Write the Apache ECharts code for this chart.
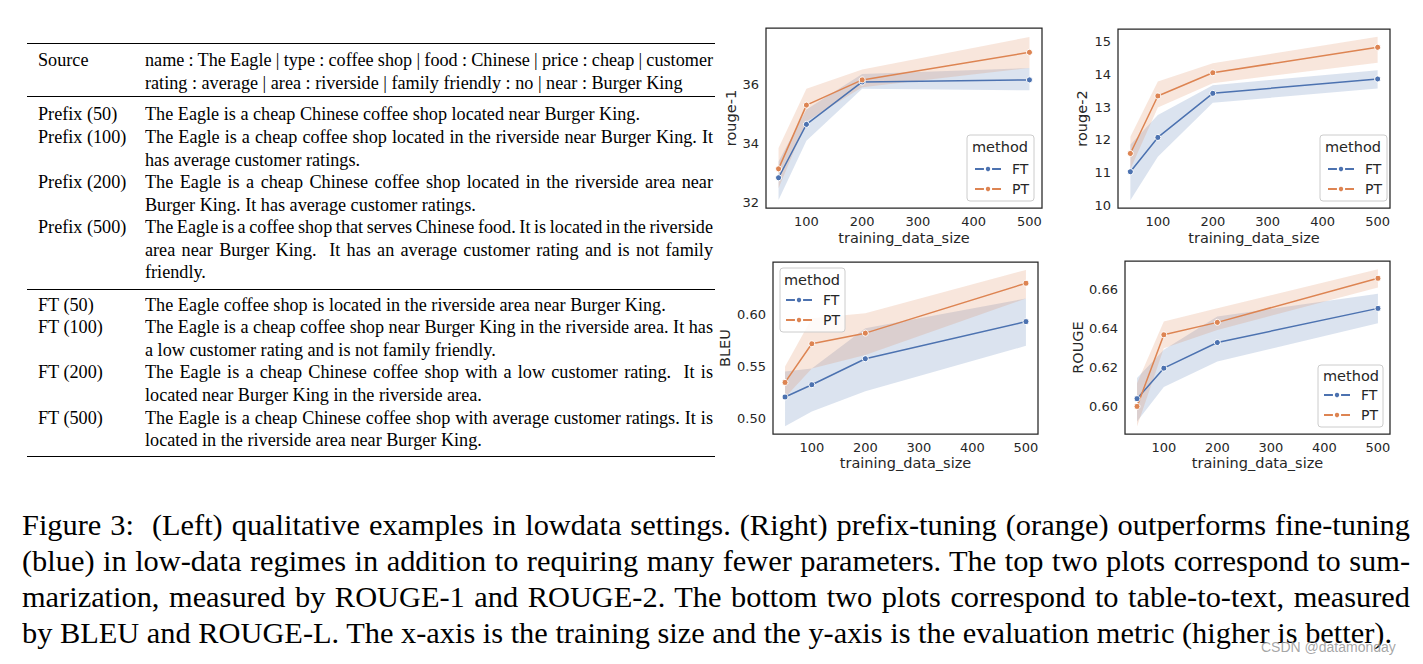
<!DOCTYPE html>
<html>
<head>
<meta charset="utf-8">
<script src="https://cdn.jsdelivr.net/npm/echarts@6/dist/echarts.min.js"></script>
<style>
html,body{margin:0;padding:0;background:#fff;width:1423px;height:664px;overflow:hidden;}
#chart{position:absolute;left:0;top:0;width:1423px;height:664px;}
#text{position:absolute;left:0;top:0;width:1423px;height:664px;pointer-events:none;}
.ln{position:absolute;white-space:pre;font-family:"Liberation Serif","Times New Roman",serif;color:#000;}
.ln span{display:inline-block;transform-origin:0 50%;white-space:pre;}
.rule{position:absolute;left:27px;width:688px;background:#000;}
.wm{position:absolute;left:1261px;top:639px;font-family:"Liberation Sans",Arial,sans-serif;font-size:14px;color:rgba(150,150,150,0.85);white-space:pre;}
</style>
</head>
<body>
<div id="chart"></div>
<div id="text"></div>
<script>
// ---------------- data ----------------
const trainingSizes = [50, 100, 200, 500];
const xTickLabels = [100, 200, 300, 400, 500];

// ROUGE-1 (summarization)
const rouge1FT   = [32.85, 34.65, 36.08, 36.15];
const rouge1PT   = [33.15, 35.30, 36.15, 37.08];
const rouge1FTlo = [32.10, 34.10, 35.85, 35.80];
const rouge1FThi = [33.40, 35.15, 36.35, 36.55];
const rouge1PTlo = [32.50, 34.75, 35.90, 36.55];
const rouge1PThi = [33.85, 35.85, 36.50, 37.60];
const rouge1Ticks = [32, 34, 36];

// ROUGE-2 (summarization)
const rouge2FT   = [11.02, 12.07, 13.42, 13.86];
const rouge2PT   = [11.58, 13.34, 14.05, 14.83];
const rouge2FTlo = [10.15, 11.48, 13.13, 13.57];
const rouge2FThi = [11.85, 12.76, 13.67, 14.13];
const rouge2PTlo = [11.10, 12.99, 13.73, 14.36];
const rouge2PThi = [12.09, 13.78, 14.34, 15.15];
const rouge2Ticks = [10, 11, 12, 13, 14, 15];

// BLEU (table-to-text)
const bleuFT   = [0.5204, 0.5323, 0.5575, 0.5935];
const bleuPT   = [0.5345, 0.5720, 0.5823, 0.6307];
const bleuFTlo = [0.4920, 0.5064, 0.5260, 0.5700];
const bleuFThi = [0.5450, 0.5480, 0.5870, 0.6160];
const bleuPTlo = [0.5200, 0.5480, 0.5610, 0.6160];
const bleuPThi = [0.5500, 0.5968, 0.6017, 0.6436];
const bleuTicks = [0.50, 0.55, 0.60];

// ROUGE-L (table-to-text)
const rougeLFT   = [0.6040, 0.6197, 0.6329, 0.6505];
const rougeLPT   = [0.6000, 0.6369, 0.6433, 0.6660];
const rougeLFTlo = [0.5923, 0.6100, 0.6231, 0.6429];
const rougeLFThi = [0.6146, 0.6292, 0.6463, 0.6580];
const rougeLPTlo = [0.5897, 0.6300, 0.6394, 0.6613];
const rougeLPThi = [0.6120, 0.6437, 0.6506, 0.6706];
const rougeLTicks = [0.60, 0.62, 0.64, 0.66];

const yNames = ['rouge-1', 'rouge-2', 'BLEU', 'ROUGE'];
const xName = 'training_data_size';
const methodNames = ['FT', 'PT'];
const legendTitle = 'method';

// table text
const tableLabels = ['Source', 'Prefix (50)', 'Prefix (100)', 'Prefix (200)', 'Prefix (500)',
                     'FT (50)', 'FT (100)', 'FT (200)', 'FT (500)'];
const tableTexts = [
  ['name : The Eagle | type : coffee shop | food : Chinese | price : cheap | customer',
   'rating : average | area : riverside | family friendly : no | near : Burger King'],
  ['The Eagle is a cheap Chinese coffee shop located near Burger King.'],
  ['The Eagle is a cheap coffee shop located in the riverside near Burger King. It',
   'has average customer ratings.'],
  ['The Eagle is a cheap Chinese coffee shop located in the riverside area near',
   'Burger King. It has average customer ratings.'],
  ['The Eagle is a coffee shop that serves Chinese food. It is located in the riverside',
   'area near Burger King.  It has an average customer rating and is not family',
   'friendly.'],
  ['The Eagle coffee shop is located in the riverside area near Burger King.'],
  ['The Eagle is a cheap coffee shop near Burger King in the riverside area. It has',
   'a low customer rating and is not family friendly.'],
  ['The Eagle is a cheap Chinese coffee shop with a low customer rating.  It is',
   'located near Burger King in the riverside area.'],
  ['The Eagle is a cheap Chinese coffee shop with average customer ratings. It is',
   'located in the riverside area near Burger King.']
];
const captionLines = [
  'Figure 3:  (Left) qualitative examples in lowdata settings. (Right) prefix-tuning (orange) outperforms fine-tuning',
  '(blue) in low-data regimes in addition to requiring many fewer parameters. The top two plots correspond to sum-',
  'marization, measured by ROUGE-1 and ROUGE-2. The bottom two plots correspond to table-to-text, measured',
  'by BLEU and ROUGE-L. The x-axis is the training size and the y-axis is the evaluation metric (higher is better).'
];
const watermark = 'CSDN @datamonday';

// ---------------- layout (positions / sizes / styles) ----------------
const tableLineY = [[60, 83], [114], [137, 160], [182, 205], [227, 250, 272], [305], [327, 350], [372, 395], [418, 440]];
const ruleY = [[43.5, 1.5], [96.5, 1], [289, 1], [456.5, 1.5]];
const captionY = [525, 561, 597, 633];

const COLORS = ['#4C72B0', '#DD8452'];
const BANDS = ['rgba(76,114,176,0.2)', 'rgba(221,132,82,0.2)'];
const INK = '#262626';
const FONT = 'DejaVu Sans';

const charts = [
  {ft: rouge1FT, pt: rouge1PT, ftLo: rouge1FTlo, ftHi: rouge1FThi, ptLo: rouge1PTlo, ptHi: rouge1PThi, ticks: rouge1Ticks, ymin: 31.83, ymax: 37.90, dec: 0},
  {ft: rouge2FT, pt: rouge2PT, ftLo: rouge2FTlo, ftHi: rouge2FThi, ptLo: rouge2PTlo, ptHi: rouge2PThi, ticks: rouge2Ticks, ymin: 9.91, ymax: 15.39, dec: 0},
  {ft: bleuFT, pt: bleuPT, ftLo: bleuFTlo, ftHi: bleuFThi, ptLo: bleuPTlo, ptHi: bleuPThi, ticks: bleuTicks, ymin: 0.4845, ymax: 0.6513, dec: 2},
  {ft: rougeLFT, pt: rougeLPT, ftLo: rougeLFTlo, ftHi: rougeLFThi, ptLo: rougeLPTlo, ptHi: rougeLPThi, ticks: rougeLTicks, ymin: 0.5858, ymax: 0.6749, dec: 2}
];
const layout = [
  {left: 766, top: 28, width: 276, height: 180, yGap: 26, xGap: 22, box: [967, 135, 67, 66], titleXY: [1000, 147], legX: 974, rows: [169, 189]},
  {left: 1118, top: 29, width: 272, height: 179, yGap: 29, xGap: 22, box: [1320, 135, 67, 66], titleXY: [1353, 147], legX: 1327, rows: [169, 189]},
  {left: 773, top: 262, width: 265, height: 172, yGap: 41, xGap: 21, box: [780, 268, 65, 64], titleXY: [812, 280], legX: 785, rows: [300, 320]},
  {left: 1125, top: 261, width: 265, height: 173, yGap: 40, xGap: 21, box: [1318, 365, 65, 62], titleXY: [1351, 376], legX: 1323, rows: [395, 415]}
];

// ---------------- chart ----------------
const chart = echarts.init(document.getElementById('chart'), null, {renderer: 'svg'});
const option = {animation: false, grid: [], xAxis: [], yAxis: [], series: [], legend: [], graphic: []};
const pairs = (xs, ys) => xs.map((x, k) => [x, ys[k]]);

function bandSeries(i, xs, lo, hi, fill) {
  return {
    type: 'custom', xAxisIndex: i, yAxisIndex: i, z: 1, silent: true,
    data: xs.map((x, k) => [x, lo[k], hi[k]]),
    encode: {x: 0, y: [1, 2]},
    renderItem: function (params, api) {
      if (params.dataIndex !== 0) return null;
      const pts = [];
      for (let k = 0; k < xs.length; k++) pts.push(api.coord([xs[k], lo[k]]));
      for (let k = xs.length - 1; k >= 0; k--) pts.push(api.coord([xs[k], hi[k]]));
      return {type: 'polygon', shape: {points: pts}, style: {fill: fill, stroke: 'none'}};
    }
  };
}

charts.forEach((c, i) => {
  const g = layout[i];
  option.grid.push({left: g.left, top: g.top, width: g.width, height: g.height, show: true,
    borderColor: INK, borderWidth: 1.25, backgroundColor: 'transparent', containLabel: false, outerBoundsMode: 'none'});
  option.xAxis.push({type: 'value', gridIndex: i, min: 27.5, max: 522.5,
    name: xName, nameLocation: 'middle', nameGap: g.xGap,
    nameTextStyle: {color: INK, fontSize: 14.5, fontFamily: FONT},
    axisLine: {show: false}, axisTick: {show: false}, splitLine: {show: false},
    axisLabel: {customValues: xTickLabels, margin: 7, color: INK, fontSize: 13, fontFamily: FONT}});
  option.yAxis.push({type: 'value', gridIndex: i, min: c.ymin, max: c.ymax,
    name: yNames[i], nameLocation: 'middle', nameGap: g.yGap,
    nameTextStyle: {color: INK, fontSize: 14.5, fontFamily: FONT},
    axisLine: {show: false}, axisTick: {show: false}, splitLine: {show: false},
    axisLabel: {customValues: c.ticks, margin: 7, color: INK, fontSize: 13, fontFamily: FONT,
      formatter: v => Number(v).toFixed(c.dec)}});

  const sets = [[c.ft, c.ftLo, c.ftHi], [c.pt, c.ptLo, c.ptHi]];
  sets.forEach((s, m) => {
    option.series.push(bandSeries(i, trainingSizes, s[1], s[2], BANDS[m]));
  });
  sets.forEach((s, m) => {
    option.series.push({type: 'line', name: methodNames[m], xAxisIndex: i, yAxisIndex: i,
      data: pairs(trainingSizes, s[0]), z: 3,
      symbol: 'circle', symbolSize: 6, showSymbol: true,
      lineStyle: {color: COLORS[m], width: 1.5},
      itemStyle: {color: COLORS[m], borderColor: '#fff', borderWidth: 1}});
  });

  // legend box & title
  option.graphic.push({type: 'rect', z: 10, shape: {x: g.box[0], y: g.box[1], width: g.box[2], height: g.box[3], r: 3},
    style: {fill: 'rgba(255,255,255,0.8)', stroke: '#cccccc', lineWidth: 1}});
  option.graphic.push({type: 'text', z: 11, x: g.titleXY[0], y: g.titleXY[1],
    style: {text: legendTitle, fill: INK, font: '14.5px "DejaVu Sans"', align: 'center', verticalAlign: 'middle'}});
  methodNames.forEach((nm, m) => {
    option.legend.push({data: [nm], orient: 'vertical', left: g.legX, top: g.rows[m] - 8, z: 12,
      itemWidth: 26, itemHeight: 8, itemGap: 4, selectedMode: false, padding: 0,
      textStyle: {color: INK, fontSize: 14, fontFamily: FONT, lineHeight: 16, padding: [0, 0, 0, 6]}});
  });
});
chart.setOption(option);

// ---------------- text (table + caption) ----------------
const host = document.getElementById('text');
function addLine(text, x, y, size, lh) {
  const d = document.createElement('div');
  d.className = 'ln';
  d.style.left = x + 'px';
  d.style.top = (y - lh / 2) + 'px';
  d.style.fontSize = size + 'px';
  d.style.lineHeight = lh + 'px';
  const s = document.createElement('span');
  s.textContent = text;
  d.appendChild(s);
  host.appendChild(d);
  return s;
}
// items: {span, justify}; refItem/refWidth: a non-justified line whose width in the reference is known
function fitGroup(items, target, refItem, refWidth) {
  items.forEach(it => { it.w = it.span.getBoundingClientRect().width; });
  const scale = refWidth / refItem.w;
  items.forEach(it => {
    if (it.justify) {
      const spaces = (it.span.textContent.match(/ /g) || []).length;
      const extra = (target / scale - it.w) / Math.max(1, spaces);
      it.span.style.wordSpacing = extra + 'px';
    }
    it.span.style.transform = 'scaleX(' + scale + ')';
  });
  return scale;
}

// rules
ruleY.forEach(r => {
  const d = document.createElement('div');
  d.className = 'rule';
  d.style.top = (r[0] - r[1] / 2) + 'px';
  d.style.height = r[1] + 'px';
  host.appendChild(d);
});

const TABLE_FS = 18, TABLE_LH = 22;
const textItems = [];
const labelSpans = [];
let refTableItem = null;
tableTexts.forEach((lines, r) => {
  labelSpans.push(addLine(tableLabels[r], 38, tableLineY[r][0], TABLE_FS, TABLE_LH));
  lines.forEach((t, k) => {
    const sp = addLine(t, 145, tableLineY[r][k], TABLE_FS, TABLE_LH);
    const it = {span: sp, justify: k < lines.length - 1};
    if (r === 1) refTableItem = it;
    textItems.push(it);
  });
});
const tScale = fitGroup(textItems, 568, refTableItem, 495);
labelSpans.forEach(s => { s.style.transform = 'scaleX(' + tScale + ')'; });

const CAP_FS = 30, CAP_LH = 36;
const capItems = captionLines.map((t, k) => ({span: addLine(t, 22, captionY[k], CAP_FS, CAP_LH), justify: k < captionLines.length - 1}));
fitGroup(capItems, 1388, capItems[3], 1370);

const wm = document.createElement('div');
wm.className = 'wm';
wm.textContent = watermark;
host.appendChild(wm);
</script>
</body>
</html>
